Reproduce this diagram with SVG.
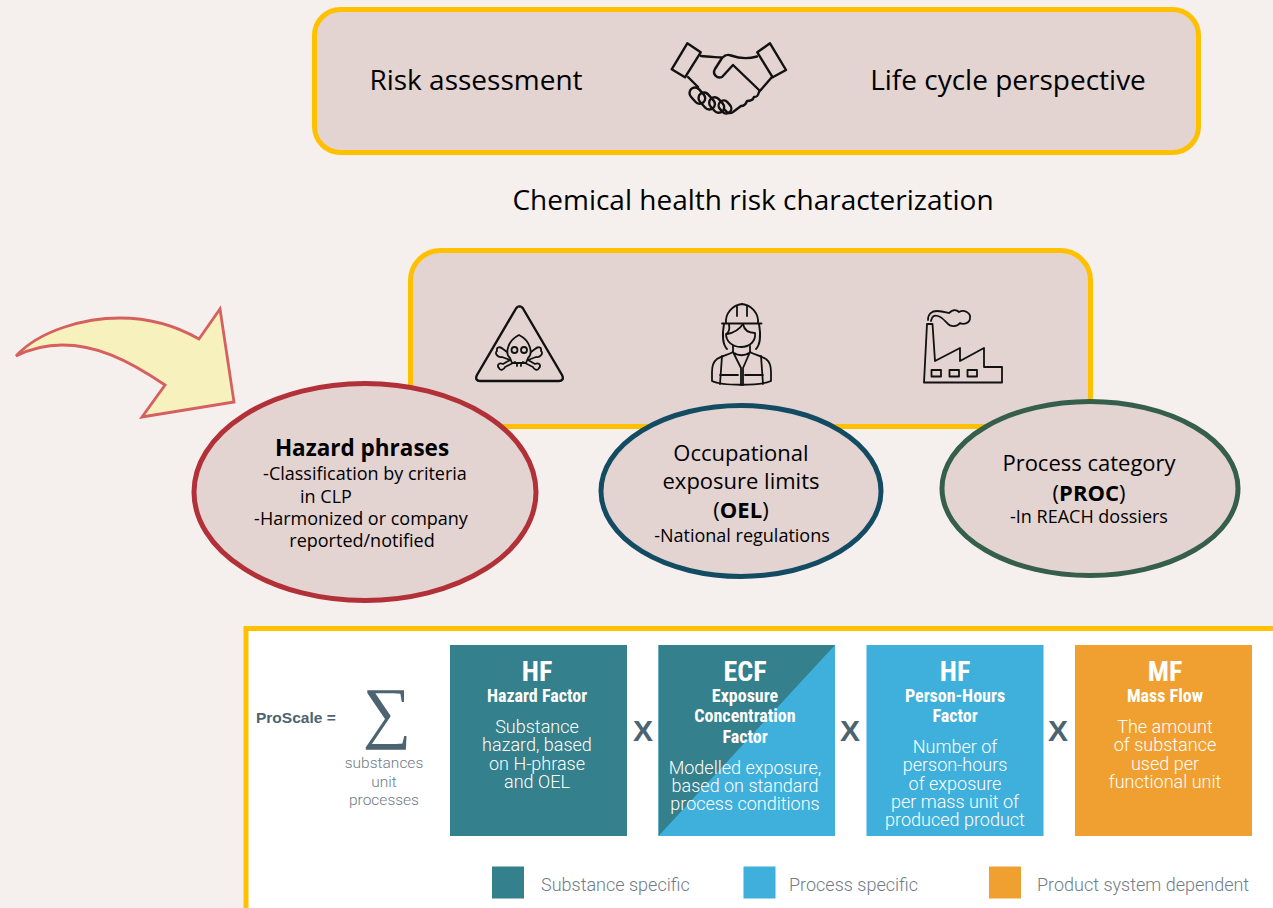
<svg xmlns="http://www.w3.org/2000/svg" width="1273" height="908" viewBox="0 0 1273 908">
<style>
text{font-family:"Open Sans","Noto Sans","Liberation Sans",sans-serif;fill:#000}
.c{text-anchor:middle}
.h{font-size:28px}
.e{font-size:22px}
.s{font-size:18px}
.b{font-weight:700}
.box{fill:#e3d3d1;stroke:#ffc000;stroke-width:5}
.ell{fill:#e3d3d1;stroke-width:5}
.ic{fill:none;stroke:#111;stroke-width:2.4;stroke-linejoin:round;stroke-linecap:round}
.ic2{fill:none;stroke:#111;stroke-width:1.8;stroke-linejoin:round;stroke-linecap:round}
.t1{font-family:"Liberation Sans Narrow","Roboto Condensed","Liberation Sans",sans-serif;font-weight:700;fill:#fff;text-anchor:middle}
.big{font-size:28px}
.sub{font-size:18px}
.d{font-family:Roboto,"Liberation Sans",sans-serif;font-weight:300;font-size:18px;fill:#fff;text-anchor:middle}
.g{font-family:Roboto,"Liberation Sans",sans-serif;font-weight:300;fill:#6f7c85}
.x{font-family:"Liberation Sans",sans-serif;font-weight:700;font-size:30px;fill:#4d6372;text-anchor:middle}
</style>
<rect width="1273" height="908" fill="#f5f0ee"/>
<g id="top-box">
<rect class="box" x="314.500" y="9.500" width="884" height="143" rx="26"/>
<text class="h" x="476" y="90" text-anchor="middle">Risk assessment</text>
<text class="h" x="1008" y="90" text-anchor="middle">Life cycle perspective</text>
<g class="ic">
<path d="M687.300 43.300L700.700 52.300L685 77.300L671.700 69.300Z"/>
<path d="M770 43.300L757.300 52.300L772.700 77.300L786 70Z"/>
<path d="M701 56C708 57 716 57 722 57.500M757 56.500C748 59 738 58 731 55.500C727 54 725 55 722 58L715 69C712 74 717 79 722 77L733 65L759 90"/>
<path d="M688 77L698 87M772 77L759 92C758 96 757 97 754 97C753 100 750 101 747 101C746 104 744 106 741 106L733 112C730 114 727 113 725 110"/>
<rect x="692" y="87" width="11" height="18" rx="5.500" transform="rotate(-42 697 96)"/>
<rect x="701" y="92" width="11" height="19" rx="5.500" transform="rotate(-42 706 101)"/>
<rect x="711" y="97" width="11" height="17" rx="5.500" transform="rotate(-42 716 105)"/>
<rect x="720" y="100" width="10" height="14" rx="5" transform="rotate(-42 725 107)"/>
</g>
</g>
<text class="h c" x="753" y="210" id="heading">Chemical health risk characterization</text>
<g id="icons-box">
<rect class="box" x="410.500" y="250.500" width="680" height="176" rx="30"/>
<g class="ic">
<path d="M519.500 306.500C518 306 517 307 516 308.500L477 375C475 379 477 381 480 381H559C562 381 564 379 562 375L523 308.500C522 307 521 306 519.500 306.500Z"/>
</g>
<g class="ic2">
<path d="M510 358C505 354 507 341 519 335C531 341 533 354 528 358L526 363H512Z"/>
<circle cx="514.500" cy="350" r="3"/><circle cx="524" cy="350" r="3"/>
<path d="M507 352L503 349C500 346 496 347 497 351C494 353 498 358 502 357L510 360L503 364C498 362 497 366 499 368C500 371 504 370 505 367L515 362M531 352L535 349C538 346 542 347 541 351C544 353 540 358 536 357L528 360L535 364C540 362 541 366 539 368C538 371 534 370 533 367L523 362M517 363V366M521 363V366"/>
</g>
<g class="ic2">
<path d="M722 323.500H761.500M726 323.500C725 313 733 305 742 304C751 305 759 313 758 323.500M737 306V316M747 306V316"/>
<path d="M724 324C722 335 723 345 727 349M759 324C761 335 760 345 756 349M729 324C730 330 728 333 726 334C726 341 732 347 741 347C750 347 756 341 755 333C748 333 744 329 743 324C739 330 733 333 727 334"/>
<path d="M733 346V352C730 354 722 356 717 359C713 362 712 367 712 372V381C722 386 760 386 771 381V372C771 367 770 362 766 359C761 356 753 354 750 352V346"/>
<path d="M722 356L720 384M761 356L763 384M733 352L741 368V385M750 352L743 368V385M720 375H738M745 375H763M734 353C738 356 745 356 749 353"/>
</g>
<g class="ic2">
<path d="M924 382.500L927 324H932.500L935 361L960 348V361L984 348V367H1002V382.500Z"/>
<rect x="931.500" y="370" width="9.500" height="6.500"/><rect x="949.500" y="370" width="9.500" height="6.500"/><rect x="967.500" y="370" width="9.500" height="6.500"/>
<path d="M928 320C928 314 932 311 937 311C942 311 945 312 949 313C952 310 956 309 959 312C964 309 971 313 970 318C970 323 964 325 960 323C957 327 951 327 948 324C945 321 942 317 938 316C934 315 932 316 931 321"/>
</g>
</g>
<g id="curved-arrow">
<path d="M16 356C40 330 85 318 120 318C150 318 178 327 199 339L220 309L234 402L142 417L165 385C125 358 95 345 62 345C46 345 30 349 16 356Z" fill="#f6f1bd" stroke="#d5605f" stroke-width="2.800" stroke-linejoin="miter"/>
</g>
<g id="hazard">
<ellipse class="ell" cx="365" cy="492" rx="171" ry="108.500" stroke="#b23037"/>
<text class="c b" x="362" y="456" font-size="22.500">Hazard phrases</text>
<text class="c s" x="365" y="480">-Classification by criteria</text>
<text class="c s" x="326" y="503">in CLP</text>
<text class="c s" x="361" y="525">-Harmonized or company</text>
<text class="c s" x="362" y="547">reported/notified</text>
</g>
<g id="oel">
<ellipse class="ell" cx="741" cy="491" rx="140" ry="85.500" stroke="#134b63"/>
<text class="c e" x="741" y="461">Occupational</text>
<text class="c e" x="741" y="489">exposure limits</text>
<text class="c e" x="741" y="518">(<tspan class="b">OEL</tspan>)</text>
<text class="c s" x="742" y="542">-National regulations</text>
</g>
<g id="proc">
<ellipse class="ell" cx="1090" cy="488.500" rx="148" ry="87" stroke="#355e4b"/>
<text class="c e" x="1089" y="471">Process category</text>
<text class="c e" x="1089" y="501">(<tspan class="b">PROC</tspan>)</text>
<text class="c s" x="1089" y="523">-In REACH dossiers</text>
</g>
<g id="formula">
<rect x="246" y="628.500" width="1032" height="285" fill="#fff" stroke="#ffc000" stroke-width="5"/>
<text x="256" y="723" font-family="Liberation Sans" font-weight="700" font-size="15.500" fill="#4d6372" style="fill:#4d6372;font-family:'Liberation Sans Narrow','Liberation Sans',sans-serif">ProScale =</text>
<text x="387" y="735" class="c" font-size="68" style="font-family:'Liberation Serif',serif;fill:#4d6372">∑</text>
<g class="g" font-size="15.500" text-anchor="middle">
<text class="g" x="384" y="768">substances</text>
<text class="g" x="384" y="787">unit</text>
<text class="g" x="384" y="805">processes</text>
</g>
</g>
<g id="hf-box">
<rect x="450" y="645" width="177" height="191" fill="#34808c"/>
<text class="t1 big" x="537" y="681">HF</text>
<text class="t1 sub" x="537" y="702">Hazard Factor</text>
<text class="d" x="537" y="733">Substance</text>
<text class="d" x="537" y="751">hazard, based</text>
<text class="d" x="537" y="770">on H-phrase</text>
<text class="d" x="537" y="788">and OEL</text>
</g>
<text class="x" x="643" y="741">X</text>
<g id="ecf-box">
<rect x="658.500" y="645" width="176.500" height="191" fill="#3fb0dc"/>
<path d="M658.500 836V645H835Z" fill="#34808c"/>
<text class="t1 big" x="745" y="681">ECF</text>
<text class="t1 sub" x="745" y="702">Exposure</text>
<text class="t1 sub" x="745" y="722">Concentration</text>
<text class="t1 sub" x="745" y="743">Factor</text>
<text class="d" x="745" y="774">Modelled exposure,</text>
<text class="d" x="745" y="792">based on standard</text>
<text class="d" x="745" y="810">process conditions</text>
</g>
<text class="x" x="850" y="741">X</text>
<g id="phf-box">
<rect x="866.500" y="645" width="177" height="191" fill="#3fb0dc"/>
<text class="t1 big" x="955" y="681">HF</text>
<text class="t1 sub" x="955" y="702">Person-Hours</text>
<text class="t1 sub" x="955" y="722">Factor</text>
<text class="d" x="955" y="753">Number of</text>
<text class="d" x="955" y="771">person-hours</text>
<text class="d" x="955" y="790">of exposure</text>
<text class="d" x="955" y="808">per mass unit of</text>
<text class="d" x="955" y="826">produced product</text>
</g>
<text class="x" x="1058" y="741">X</text>
<g id="mf-box">
<rect x="1075" y="645" width="177" height="191" fill="#f0a030"/>
<text class="t1 big" x="1165" y="681">MF</text>
<text class="t1 sub" x="1165" y="702">Mass Flow</text>
<text class="d" x="1165" y="733">The amount</text>
<text class="d" x="1165" y="751">of substance</text>
<text class="d" x="1165" y="770">used per</text>
<text class="d" x="1165" y="788">functional unit</text>
</g>
<g id="legend">
<rect x="492" y="866.500" width="32" height="32" fill="#34808c"/>
<text class="g" x="541" y="891" font-size="18">Substance specific</text>
<rect x="743.500" y="866.500" width="32" height="32" fill="#3fb0dc"/>
<text class="g" x="789" y="891" font-size="18">Process specific</text>
<rect x="989" y="866.500" width="32" height="32" fill="#f0a030"/>
<text class="g" x="1037" y="891" font-size="18">Product system dependent</text>
</g>
</svg>
